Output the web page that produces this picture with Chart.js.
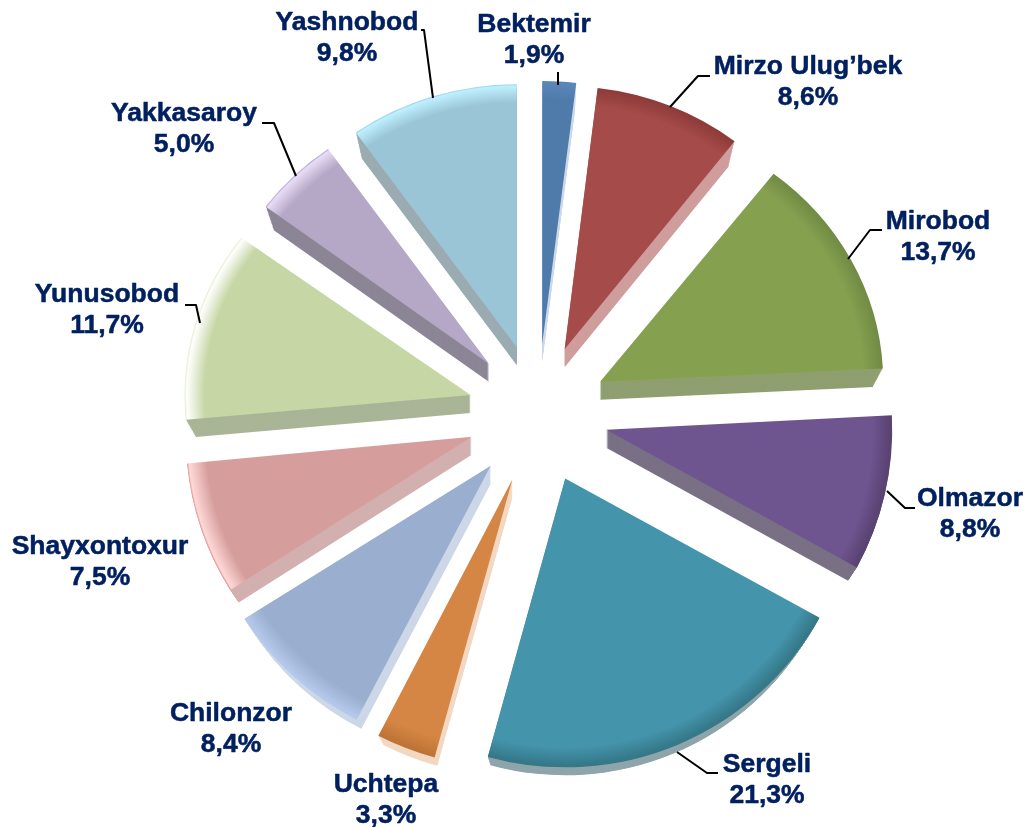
<!DOCTYPE html>
<html>
<head>
<meta charset="utf-8">
<style>html,body{margin:0;padding:0;background:#fff}canvas{display:block}</style>
<script src="https://cdn.jsdelivr.net/npm/chart.js@4"></script>
</head>
<body>
<canvas id="c" width="1027" height="827"></canvas>
<script>
const categories = ["Bektemir","Mirzo Ulug’bek","Mirobod","Olmazor","Sergeli","Uchtepa","Chilonzor","Shayxontoxur","Yunusobod","Yakkasaroy","Yashnobod"];
const shares = [1.9,8.6,13.7,8.8,21.3,3.3,8.4,7.5,11.7,5.0,9.8];

const baseColors = ["#4F7BAB","#A54B49","#85A04F","#6E5590","#4494AC","#D58644","#9AAECF","#D59E9D","#C6D6A4","#B5A7C6","#9AC5D7"];
const rimColors  = ["#5A87B8","#8E3C3A","#728C45","#5A4272","#357888","#BE7436","#B3C8EA","#FFD9D7","#FFFFFF","#E8DDF7","#BFF0FF"];
const edgeColors = ["#5A87B8","#8E3C3A","#728C45","#5A4272","#357888","#BE7436","#B3C8EA","#E58F8C","#E3ECC6","#AC9FD2","#90CDE2"];
const sideColors = ["#CBD9EA","#CF9E9C","#8F9F70","#7A7085","#8FA5AB","#F2D8C2","#CCD7E7","#D2B0AF","#A9B596","#8B8596","#9AABB2"];
const faceScaleX = [1,0.97,0.99,1,1.015,1.02,1.02,1,1,0.975,0.975];
const faceScaleY = [0.92,0.92,0.92,1,1.01,1.01,1,1,0.92,0.92,0.92];

const labelPlacement = [
  {x:534,y:25,leader:[[558,85],[558,72]]},
  {x:808,y:67,leader:[[670,107],[698,76],[710,76]]},
  {x:938,y:222,leader:[[848,259],[870,230],[882,230]]},
  {x:970,y:499,leader:[[887,491],[905,508],[915,508]]},
  {x:767,y:765,leader:[[677,752],[707,773],[718,773]]},
  {x:386,y:785,leader:null},
  {x:231,y:714,leader:null},
  {x:100,y:547,leader:null},
  {x:107,y:295,leader:[[200,323],[196,305],[185,305]]},
  {x:184,y:114,leader:[[296,176],[274,123],[262,123]]},
  {x:347,y:23,leader:[[433,98],[424,30],[421,30]]}
];

const EXPLODE = 70, RADIUS = 286, DEPTH = 18, INSET = 10, RIM = 20;

function tipOf(arc){
  const p = arc.getProps(['x','y','startAngle','endAngle','outerRadius']);
  const mid = (p.startAngle + p.endAngle) / 2;
  return {x:p.x + Math.cos(mid)*EXPLODE, y:p.y + Math.sin(mid)*EXPLODE, s:p.startAngle, e:p.endAngle, r:p.outerRadius};
}

function sliceFill(ctx){
  const i = ctx.dataIndex, chart = ctx.chart, a = chart.chartArea;
  const R = chart.getDatasetMeta(0).controller.outerRadius;
  if(!a || !R) return baseColors[i];
  const cx = (a.left+a.right)/2, cy = (a.top+a.bottom)/2;
  const g = chart.ctx.createRadialGradient(cx,cy,0,cx,cy,R);
  g.addColorStop(0, baseColors[i]);
  g.addColorStop(Math.max(0,(R-RIM)/R), baseColors[i]);
  g.addColorStop((R-2)/R, rimColors[i]);
  g.addColorStop(1, edgeColors[i]);
  return g;
}

const pie3d = {
  id:'pie3d',
  beforeDatasetsDraw(chart){
    const ctx = chart.ctx, arcs = chart.getDatasetMeta(0).data;
    arcs.forEach((arc,i)=>{
      const t = tipOf(arc), sx = faceScaleX[i], sy = faceScaleY[i];
      ctx.save();
      ctx.fillStyle = sideColors[i];
      for(let d=DEPTH;d>=1;d--){
        ctx.save();
        ctx.translate(t.x,t.y+d);
        ctx.scale(sx,sy);
        ctx.beginPath();
        ctx.moveTo(0,0);
        ctx.arc(0,0,t.r - d*INSET/DEPTH,t.s,t.e);
        ctx.closePath();
        ctx.fill();
        ctx.restore();
      }
      ctx.restore();
      if(!arc.__wrapped){
        const orig = arc.draw;
        arc.draw = function(c){
          const q = tipOf(this);
          c.save();
          c.translate(q.x,q.y); c.scale(sx,sy); c.translate(-this.x,-this.y);
          orig.call(this,c);
          c.restore();
        };
        arc.__wrapped = true;
      }
    });
  },
  afterDatasetsDraw(chart){
    const ctx = chart.ctx;
    ctx.save();
    ctx.strokeStyle = '#000';
    ctx.lineWidth = 2;
    ctx.lineJoin = 'round';
    labelPlacement.forEach(p=>{
      if(!p.leader) return;
      ctx.beginPath();
      p.leader.forEach((q,k)=> k ? ctx.lineTo(q[0],q[1]) : ctx.moveTo(q[0],q[1]));
      ctx.stroke();
    });
    ctx.fillStyle = '#002060';
    ctx.strokeStyle = '#002060';
    ctx.lineWidth = 0.5;
    ctx.font = 'bold 26.5px "Liberation Sans", Arial, sans-serif';
    ctx.textAlign = 'center';
    ctx.textBaseline = 'middle';
    categories.forEach((name,i)=>{
      const p = labelPlacement[i];
      const pct = shares[i].toFixed(1).replace('.',',')+'%';
      ctx.fillText(name,p.x,p.y); ctx.strokeText(name,p.x,p.y);
      ctx.fillText(pct,p.x,p.y+31); ctx.strokeText(pct,p.x,p.y+31);
    });
    ctx.restore();
  }
};

new Chart(document.getElementById('c'),{
  type:'pie',
  data:{labels:categories,datasets:[{data:shares,backgroundColor:sliceFill,borderWidth:0,offset:0,hoverOffset:0,radius:RADIUS}]},
  options:{
    responsive:false,
    animation:false,
    rotation:0,
    layout:{padding:{left:182,right:133,top:58,bottom:57}},
    plugins:{legend:{display:false},tooltip:{enabled:false}}
  },
  plugins:[pie3d]
});
</script>
</body>
</html>
